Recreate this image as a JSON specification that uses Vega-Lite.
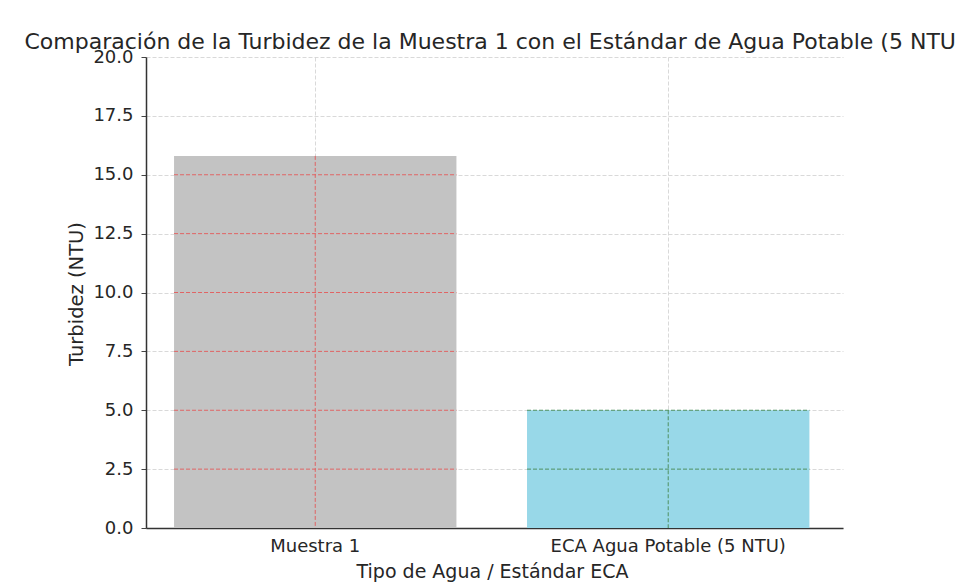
{
  "$schema": "https://vega.github.io/schema/vega-lite/v6.json",
  "autosize": {"type": "none"},
  "padding": {"left": 146, "top": 57, "right": 113, "bottom": 57},
  "width": 697,
  "height": 471,
  "config": {
    "font": "DejaVu Sans",
    "view": {"stroke": null},
    "axis": {
      "labelFont": "DejaVu Sans",
      "titleFont": "DejaVu Sans",
      "labelColor": "#262626",
      "titleColor": "#262626",
      "labelFontSize": 18,
      "titleFontSize": 19,
      "titleFontWeight": "normal",
      "domainColor": "#333333",
      "domainWidth": 1.5,
      "tickColor": "#444444",
      "gridColor": "#cfcfcf",
      "gridDash": [4, 2],
      "gridWidth": 0.8
    }
  },
  "title": {
    "text": "Comparación de la Turbidez de la Muestra 1 con el Estándar de Agua Potable (5 NTU)",
    "fontSize": 22,
    "fontWeight": "normal",
    "color": "#262626",
    "font": "DejaVu Sans",
    "anchor": "middle",
    "frame": "group",
    "offset": -6
  },
  "datasets": {
    "bars": [
      {"tipo": "Muestra 1", "turbidez": 15.8},
      {"tipo": "ECA Agua Potable (5 NTU)", "turbidez": 5}
    ],
    "grid": [
      {"tipo": "Muestra 1", "nivel": 2.5},
      {"tipo": "Muestra 1", "nivel": 5},
      {"tipo": "Muestra 1", "nivel": 7.5},
      {"tipo": "Muestra 1", "nivel": 10},
      {"tipo": "Muestra 1", "nivel": 12.5},
      {"tipo": "Muestra 1", "nivel": 15},
      {"tipo": "ECA Agua Potable (5 NTU)", "nivel": 2.5},
      {"tipo": "ECA Agua Potable (5 NTU)", "nivel": 5}
    ]
  },
  "resolve": {"scale": {"color": "independent"}},
  "layer": [
    {
      "data": {"name": "bars"},
      "mark": {"type": "bar"},
      "encoding": {
        "x": {
          "field": "tipo",
          "type": "nominal",
          "sort": ["Muestra 1", "ECA Agua Potable (5 NTU)"],
          "scale": {"paddingInner": 0.2, "paddingOuter": 0.0873, "align": 0.455},
          "title": "Tipo de Agua / Estándar ECA",
          "axis": {"labelAngle": 0, "ticks": false, "labelPadding": 9, "titlePadding": 7, "grid": true, "labelLimit": 500, "titleX": 346}
        },
        "y": {
          "field": "turbidez",
          "type": "quantitative",
          "scale": {"domain": [0, 20], "nice": false},
          "title": "Turbidez (NTU)",
          "axis": {
            "values": [0, 2.5, 5, 7.5, 10, 12.5, 15, 17.5, 20],
            "format": ".1f",
            "tickSize": 5,
            "labelPadding": 8,
            "grid": true,
            "titleFontSize": 19.5,
            "titleAngle": -90,
            "titleX": -70,
            "titleY": 236.5,
            "titleAlign": "center",
            "titleBaseline": "middle"
          }
        },
        "color": {
          "field": "tipo",
          "type": "nominal",
          "scale": {"domain": ["Muestra 1", "ECA Agua Potable (5 NTU)"], "range": ["#c3c3c3", "#98d8e8"]},
          "legend": null
        }
      }
    },
    {
      "data": {"name": "grid"},
      "mark": {"type": "rule", "strokeDash": [4, 2], "strokeWidth": 1},
      "encoding": {
        "x": {"field": "tipo", "type": "nominal", "bandPosition": 0, "sort": ["Muestra 1", "ECA Agua Potable (5 NTU)"]},
        "x2": {"field": "tipo", "bandPosition": 1},
        "y": {"field": "nivel", "type": "quantitative"},
        "color": {
          "field": "tipo",
          "type": "nominal",
          "scale": {"domain": ["Muestra 1", "ECA Agua Potable (5 NTU)"], "range": ["#e06464", "#4e9060"]},
          "legend": null
        }
      }
    },
    {
      "data": {"name": "bars"},
      "mark": {"type": "rule", "strokeDash": [4, 2], "strokeWidth": 1},
      "encoding": {
        "x": {"field": "tipo", "type": "nominal", "sort": ["Muestra 1", "ECA Agua Potable (5 NTU)"]},
        "y": {"field": "turbidez", "type": "quantitative"},
        "y2": {"datum": 0},
        "color": {
          "field": "tipo",
          "type": "nominal",
          "scale": {"domain": ["Muestra 1", "ECA Agua Potable (5 NTU)"], "range": ["#e06464", "#4e9060"]},
          "legend": null
        }
      }
    }
  ]
}
